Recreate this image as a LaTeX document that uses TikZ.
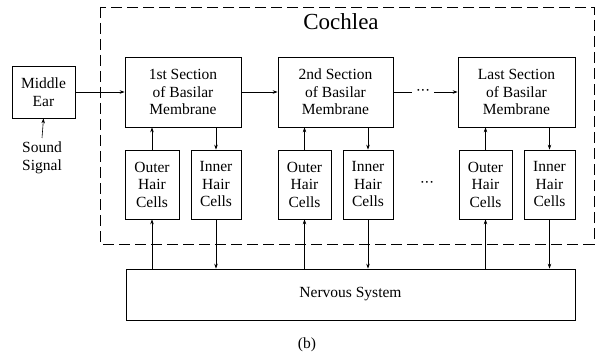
\documentclass[tikz,border=0pt]{standalone}
\usepackage{fontspec}
\setmainfont{Liberation Serif}
\usetikzlibrary{arrows.meta,calc}
\newcommand{\mydots}{\textperiodcentered\kern-0.5pt\textperiodcentered\kern-0.5pt\textperiodcentered}
\begin{document}
\begin{tikzpicture}[x=1pt,y=-1pt,
  blk/.style={draw,line width=0.7pt,rectangle,inner sep=0pt,align=center,
    font=\fontsize{15.5}{17.5}\selectfont},
  arr/.style={-{Stealth[length=5pt,width=3.5pt]},line width=0.6pt},
  ln/.style={line width=0.6pt},
  lbl/.style={inner sep=0pt,align=center,font=\fontsize{15.5}{17.5}\selectfont}]
\useasboundingbox (0,0) rectangle (599,358);
% cochlea dashed frame
\draw[line width=0.7pt,dash pattern=on 11pt off 5pt] (100,7) rectangle (594,244);
\node[lbl,font=\fontsize{23}{26}\selectfont] (coch) at (341,22) {Cochlea};
% middle ear
\node[blk,minimum width=63pt,minimum height=52pt] (me) at (43.5,92) {Middle\\Ear};
\node[lbl] (ss) at (42,158) {Sound\\Signal};
% sections
\node[blk,minimum width=116pt,minimum height=70pt] (s1) at (183,92) {1st Section\\of Basilar\\Membrane};
\node[blk,minimum width=115pt,minimum height=70pt] (s2) at (335.5,92) {2nd Section\\of Basilar\\Membrane};
\node[blk,minimum width=117pt,minimum height=70pt] (s3) at (516.5,92) {Last Section\\of Basilar\\Membrane};
\node[lbl,inner sep=4pt] (dA) at (423,92) {\raisebox{-0.6ex}{\mydots}};
% cells
\node[blk,minimum width=54pt,minimum height=69pt] (o1) at (152,184.5) {Outer\\Hair\\Cells};
\node[blk,minimum width=50pt,minimum height=69pt] (i1) at (216,184.5) {Inner\\Hair\\Cells};
\node[blk,minimum width=53pt,minimum height=69pt] (o2) at (304.5,184.5) {Outer\\Hair\\Cells};
\node[blk,minimum width=50pt,minimum height=69pt] (i2) at (368,184.5) {Inner\\Hair\\Cells};
\node[blk,minimum width=53pt,minimum height=69pt] (o3) at (485.5,184.5) {Outer\\Hair\\Cells};
\node[blk,minimum width=51pt,minimum height=69pt] (i3) at (549.5,184.5) {Inner\\Hair\\Cells};
\node[lbl] (dB) at (427,184) {\mydots};
% nervous system
\node[blk,minimum width=449pt,minimum height=51pt] (ns) at (350.5,294.5) {Nervous System};
\node[lbl] (cap) at (307,345) {(b)};
% connectors
\draw[arr] ([yshift=4pt]ss.north) -- (me.south);
\draw[arr] (me.east) -- (s1.west);
\draw[arr] (s1.east) -- (s2.west);
\draw[ln] (s2.east) -- (dA.west);
\draw[arr] (dA.east) -- (s3.west);
\foreach \o/\i/\s in {o1/i1/s1,o2/i2/s2,o3/i3/s3}{
  \draw[arr] (\o.north) -- (\o.north |- \s.south);
  \draw[arr] (\i.north |- \s.south) -- (\i.north);
  \draw[arr] (\o.south |- ns.north) -- (\o.south);
  \draw[arr] (\i.south) -- (\i.south |- ns.north);
}
\end{tikzpicture}
\end{document}
